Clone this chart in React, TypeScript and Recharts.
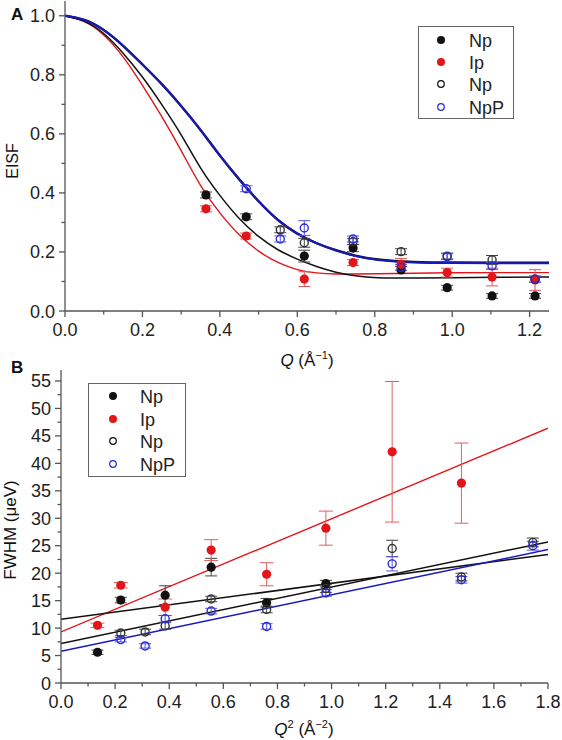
import React from 'react';
import { ComposedChart, Scatter, Line, XAxis, YAxis, ErrorBar, Legend } from 'recharts';

const FONT = '"Liberation Sans", Arial, sans-serif';
const AXIS = '#555';

// ---- panel A: EISF vs Q ----
const qNpFilled = [0.364, 0.468, 0.618, 0.744, 0.868, 0.987, 1.103, 1.214];
const eisfNpFilled = [0.393, 0.319, 0.186, 0.213, 0.139, 0.079, 0.051, 0.051];
const errNpFilled = [0.01, 0.01, 0.02, 0.012, 0.012, 0.008, 0.008, 0.008];

const qIp = [0.364, 0.468, 0.618, 0.744, 0.868, 0.987, 1.103, 1.214];
const eisfIp = [0.346, 0.254, 0.108, 0.164, 0.158, 0.13, 0.115, 0.105];
const errIp = [0.01, 0.01, 0.025, 0.01, 0.02, 0.015, 0.03, 0.035];

const qNpOpen = [0.556, 0.618, 0.744, 0.868, 0.987, 1.103, 1.214];
const eisfNpOpen = [0.275, 0.231, 0.235, 0.201, 0.186, 0.173, 0.108];
const errNpOpen = [0.01, 0.015, 0.01, 0.01, 0.01, 0.015, 0.01];

const qNpP = [0.468, 0.556, 0.618, 0.744, 0.868, 0.987, 1.103, 1.214];
const eisfNpP = [0.414, 0.244, 0.281, 0.244, 0.148, 0.184, 0.153, 0.108];
const errNpP = [0.01, 0.01, 0.025, 0.01, 0.01, 0.01, 0.012, 0.01];

// fit curves
const qFit = [0, 0.05, 0.1, 0.15, 0.2, 0.25, 0.3, 0.35, 0.4, 0.45, 0.5, 0.55, 0.6, 0.65, 0.7, 0.75, 0.8, 0.9, 1.0, 1.1, 1.25];
const fitNpFilled = [1.0, 0.985, 0.945, 0.875, 0.795, 0.7, 0.6, 0.48, 0.39, 0.31, 0.25, 0.205, 0.175, 0.15, 0.13, 0.118, 0.112, 0.111, 0.113, 0.114, 0.115];
const fitIp = [1.0, 0.985, 0.94, 0.865, 0.765, 0.66, 0.545, 0.42, 0.33, 0.255, 0.2, 0.162, 0.138, 0.128, 0.125, 0.125, 0.126, 0.128, 0.13, 0.13, 0.13];
const fitNpOpen = [1.0, 0.99, 0.955, 0.9, 0.835, 0.77, 0.695, 0.615, 0.525, 0.445, 0.37, 0.305, 0.26, 0.228, 0.205, 0.187, 0.174, 0.165, 0.164, 0.164, 0.164];
const fitNpP = [1.0, 0.99, 0.955, 0.9, 0.835, 0.77, 0.695, 0.615, 0.525, 0.445, 0.37, 0.305, 0.26, 0.228, 0.205, 0.185, 0.172, 0.163, 0.162, 0.162, 0.162];

const ticksAx = [0, 0.1, 0.2, 0.3, 0.4, 0.5, 0.6, 0.7, 0.8, 0.9, 1.0, 1.1, 1.2];
const ticksAy = [0, 0.1, 0.2, 0.3, 0.4, 0.5, 0.6, 0.7, 0.8, 0.9, 1.0];

// ---- panel B: FWHM vs Q^2 ----
const q2NpFilled = [0.135, 0.221, 0.385, 0.555, 0.76, 0.979];
const fwhmNpFilled = [5.6, 15.1, 16.0, 21.1, 14.6, 18.1];
const errFwhmNpFilled = [0.4, 0.5, 1.7, 1.6, 0.8, 0.6];

const q2Ip = [0.135, 0.221, 0.385, 0.555, 0.76, 0.979, 1.224, 1.48];
const fwhmIp = [10.5, 17.8, 13.8, 24.2, 19.8, 28.2, 42.1, 36.4];
const errFwhmIp = [0.4, 0.5, 1.5, 1.9, 2.1, 3.1, 12.8, 7.3];

const q2NpOpen = [0.221, 0.311, 0.385, 0.555, 0.76, 0.979, 1.224, 1.48, 1.744];
const fwhmNpOpen = [9.1, 9.3, 10.4, 15.3, 13.4, 17.2, 24.5, 19.3, 25.6];
const errFwhmNpOpen = [0.5, 0.5, 0.6, 0.5, 0.6, 0.7, 1.5, 0.7, 0.8];

const q2NpP = [0.221, 0.311, 0.385, 0.555, 0.76, 0.979, 1.224, 1.48, 1.744];
const fwhmNpP = [7.9, 6.75, 11.7, 13.1, 10.3, 16.4, 21.7, 18.8, 25.0];
const errFwhmNpP = [0.4, 0.4, 0.6, 0.5, 0.5, 0.6, 1.3, 0.6, 0.8];

// linear fits, ends at Q^2 = 0 and 1.8
const q2Fit = [0, 1.8];
const lineNpFilled = [11.6, 23.4];
const lineIp = [9.3, 46.4];
const lineNpOpen = [7.2, 25.7];
const lineNpP = [5.8, 24.3];

const ticksBx = [0, 0.1, 0.2, 0.3, 0.4, 0.5, 0.6, 0.7, 0.8, 0.9, 1.0, 1.1, 1.2, 1.3, 1.4, 1.5, 1.6, 1.7, 1.8];
const ticksBy = [0, 2.5, 5, 7.5, 10, 12.5, 15, 17.5, 20, 22.5, 25, 27.5, 30, 32.5, 35, 37.5, 40, 42.5, 45, 47.5, 50, 52.5, 55];

const legendNames = ['Np', 'Ip', 'Np', 'NpP'];

const pts = (xs: number[], ys: number[], es?: number[]) =>
  xs.map((x, i) => ({ x, y: ys[i], e: es ? es[i] : 0 }));

const BLACK = '#111';
const RED = '#e3151a';
const BLUE = '#2a2ad8';
const BLUE_LINE = '#1818c0';

const filled = (c: string) => (p: any) => <circle cx={p.cx} cy={p.cy} r={4.6} fill={c} />;
const open = (c: string) => (p: any) => (
  <circle cx={p.cx} cy={p.cy} r={4} fill="none" stroke={c} strokeWidth={1.4} />
);

const isMajor = (v: number, step: number) => Math.abs(v / step - Math.round(v / step)) < 1e-6;

const makeXTick = (step: number, fmt: (v: number) => string) => (props: any) => {
  const { x, y, payload } = props;
  const major = isMajor(payload.value, step);
  return (
    <g>
      <line x1={x} x2={x} y1={y} y2={y + (major ? 6 : 3.5)} stroke={AXIS} strokeWidth={1.3} />
      {major && (
        <text x={x} y={y + 25} textAnchor="middle" fontSize={18} fontFamily={FONT} fill="#222">
          {fmt(payload.value)}
        </text>
      )}
    </g>
  );
};

const makeYTick = (step: number, fmt: (v: number) => string) => (props: any) => {
  const { x, y, payload } = props;
  const major = isMajor(payload.value, step);
  return (
    <g>
      <line x1={x} x2={x - (major ? 6 : 3.5)} y1={y} y2={y} stroke={AXIS} strokeWidth={1.3} />
      {major && (
        <text x={x - 10} y={y + 6.5} textAnchor="end" fontSize={18} fontFamily={FONT} fill="#222">
          {fmt(payload.value)}
        </text>
      )}
    </g>
  );
};

const markers = [
  <circle key="a" cx={0} cy={0} r={4} fill={BLACK} />,
  <circle key="b" cx={0} cy={0} r={4} fill={RED} />,
  <circle key="c" cx={0} cy={0} r={3.3} fill="none" stroke={BLACK} strokeWidth={1.2} />,
  <circle key="d" cx={0} cy={0} r={3.3} fill="none" stroke={BLUE} strokeWidth={1.2} />,
];

const LegendBox = ({ w, h, mx, tx, rows }: { w: number; h: number; mx: number; tx: number; rows: number[] }) => (
  <svg width={w} height={h} style={{ display: 'block' }}>
    <rect x={0.5} y={0.5} width={w - 1} height={h - 1} fill="#fff" stroke="#666" strokeWidth={1} />
    {legendNames.map((n, i) => (
      <g key={i}>
        <g transform={`translate(${mx},${rows[i]})`}>{markers[i]}</g>
        <text x={tx} y={rows[i] + 6.5} fontSize={18} fontFamily={FONT} fill="#222">
          {n}
        </text>
      </g>
    ))}
  </svg>
);

const PanelA = () => (
  <ComposedChart width={562} height={360} margin={{ top: 1, right: 13, bottom: 0, left: 5 }}>
    <XAxis
      dataKey="x"
      type="number"
      domain={[0, 1.25]}
      ticks={ticksAx}
      interval={0}
      tickSize={0}
      tickMargin={0}
      height={49}
      allowDataOverflow
      axisLine={{ stroke: AXIS, strokeWidth: 1.3 }}
      tickLine={false}
      tick={makeXTick(0.2, (v) => v.toFixed(1))}
    />
    <YAxis
      dataKey="y"
      type="number"
      domain={[0, 1.05]}
      ticks={ticksAy}
      interval={0}
      tickSize={0}
      tickMargin={0}
      width={60}
      allowDataOverflow
      axisLine={{ stroke: AXIS, strokeWidth: 1.3 }}
      tickLine={false}
      tick={makeYTick(0.2, (v) => v.toFixed(1))}
    />
    <Line data={pts(qFit, fitIp)} dataKey="y" type="basis" stroke={RED} strokeWidth={1.4} dot={false} isAnimationActive={false} />
    <Line data={pts(qFit, fitNpFilled)} dataKey="y" type="basis" stroke={BLACK} strokeWidth={1.5} dot={false} isAnimationActive={false} />
    <Line data={pts(qFit, fitNpOpen)} dataKey="y" type="basis" stroke={BLACK} strokeWidth={2.4} dot={false} isAnimationActive={false} />
    <Line data={pts(qFit, fitNpP)} dataKey="y" type="basis" stroke={BLUE_LINE} strokeWidth={2} dot={false} isAnimationActive={false} />
    <Scatter data={pts(qNpFilled, eisfNpFilled, errNpFilled)} dataKey="y" shape={filled(BLACK)} isAnimationActive={false}>
      <ErrorBar dataKey="e" direction="y" width={6} stroke="#444" strokeWidth={1} />
    </Scatter>
    <Scatter data={pts(qIp, eisfIp, errIp)} dataKey="y" shape={filled(RED)} isAnimationActive={false}>
      <ErrorBar dataKey="e" direction="y" width={6} stroke="#e05555" strokeWidth={1} />
    </Scatter>
    <Scatter data={pts(qNpOpen, eisfNpOpen, errNpOpen)} dataKey="y" shape={open('#333')} isAnimationActive={false}>
      <ErrorBar dataKey="e" direction="y" width={6} stroke="#444" strokeWidth={1} />
    </Scatter>
    <Scatter data={pts(qNpP, eisfNpP, errNpP)} dataKey="y" shape={open(BLUE)} isAnimationActive={false}>
      <ErrorBar dataKey="e" direction="y" width={6} stroke="#5555e0" strokeWidth={1} />
    </Scatter>
    <Legend
      layout="vertical"
      align="center"
      verticalAlign="middle"
      wrapperStyle={{ position: 'absolute', left: 418, top: 26, width: 96, height: 93 }}
      content={() => <LegendBox w={96} h={93} mx={23} tx={51} rows={[14, 36, 58, 81]} />}
    />
  </ComposedChart>
);

const PanelB = () => (
  <ComposedChart width={562} height={380} margin={{ top: 10, right: 14, bottom: 0, left: 6 }}>
    <XAxis
      dataKey="x"
      type="number"
      domain={[0, 1.8]}
      ticks={ticksBx}
      interval={0}
      tickSize={0}
      tickMargin={0}
      height={57}
      allowDataOverflow
      axisLine={{ stroke: AXIS, strokeWidth: 1.3 }}
      tickLine={false}
      tick={makeXTick(0.2, (v) => v.toFixed(1))}
    />
    <YAxis
      dataKey="y"
      type="number"
      domain={[0, 57]}
      ticks={ticksBy}
      interval={0}
      tickSize={0}
      tickMargin={0}
      width={55}
      allowDataOverflow
      axisLine={{ stroke: AXIS, strokeWidth: 1.3 }}
      tickLine={false}
      tick={makeYTick(5, (v) => String(Math.round(v)))}
    />
    <Line data={pts(q2Fit, lineIp)} dataKey="y" type="linear" stroke={RED} strokeWidth={1.4} dot={false} isAnimationActive={false} />
    <Line data={pts(q2Fit, lineNpFilled)} dataKey="y" type="linear" stroke={BLACK} strokeWidth={1.5} dot={false} isAnimationActive={false} />
    <Line data={pts(q2Fit, lineNpOpen)} dataKey="y" type="linear" stroke={BLACK} strokeWidth={1.5} dot={false} isAnimationActive={false} />
    <Line data={pts(q2Fit, lineNpP)} dataKey="y" type="linear" stroke={BLUE_LINE} strokeWidth={1.5} dot={false} isAnimationActive={false} />
    <Scatter data={pts(q2NpFilled, fwhmNpFilled, errFwhmNpFilled)} dataKey="y" shape={filled(BLACK)} isAnimationActive={false}>
      <ErrorBar dataKey="e" direction="y" width={6} stroke="#444" strokeWidth={1} />
    </Scatter>
    <Scatter data={pts(q2Ip, fwhmIp, errFwhmIp)} dataKey="y" shape={filled(RED)} isAnimationActive={false}>
      <ErrorBar dataKey="e" direction="y" width={7} stroke="#e06060" strokeWidth={1} />
    </Scatter>
    <Scatter data={pts(q2NpOpen, fwhmNpOpen, errFwhmNpOpen)} dataKey="y" shape={open('#333')} isAnimationActive={false}>
      <ErrorBar dataKey="e" direction="y" width={6} stroke="#444" strokeWidth={1} />
    </Scatter>
    <Scatter data={pts(q2NpP, fwhmNpP, errFwhmNpP)} dataKey="y" shape={open(BLUE)} isAnimationActive={false}>
      <ErrorBar dataKey="e" direction="y" width={6} stroke="#5555e0" strokeWidth={1} />
    </Scatter>
    <Legend
      layout="vertical"
      align="center"
      verticalAlign="middle"
      wrapperStyle={{ position: 'absolute', left: 88, top: 23, width: 98, height: 94 }}
      content={() => <LegendBox w={98} h={94} mx={25} tx={52} rows={[13, 36, 58, 81]} />}
    />
  </ComposedChart>
);

const App = () => (
  <div style={{ position: 'absolute', left: 0, top: 0, width: 562, height: 740, background: '#fff', fontFamily: FONT }}>
    <div style={{ position: 'absolute', left: 0, top: 0 }}>
      <PanelA />
    </div>
    <div style={{ position: 'absolute', left: 0, top: 360 }}>
      <PanelB />
    </div>
    <svg width={562} height={740} style={{ position: 'absolute', left: 0, top: 0, pointerEvents: 'none' }}>
      <g fontFamily={FONT} fill="#111">
        <text x={11} y={20} fontSize={17} fontWeight="bold">A</text>
        <text x={11} y={373} fontSize={17} fontWeight="bold">B</text>
        <text transform="translate(18,161) rotate(-90)" textAnchor="middle" fontSize={16}>EISF</text>
        <text transform="translate(16,530) rotate(-90)" textAnchor="middle" fontSize={17}>FWHM (μeV)</text>
        <text x={307} y={366} textAnchor="middle" fontSize={17}>
          <tspan fontStyle="italic">Q</tspan>
          <tspan> (Å</tspan>
          <tspan dy={-7} fontSize={11}>−1</tspan>
          <tspan dy={7}>)</tspan>
        </text>
        <text x={304} y={735} textAnchor="middle" fontSize={17}>
          <tspan fontStyle="italic">Q</tspan>
          <tspan dy={-7} fontSize={11}>2</tspan>
          <tspan dy={7}> (Å</tspan>
          <tspan dy={-7} fontSize={11}>−2</tspan>
          <tspan dy={7}>)</tspan>
        </text>
      </g>
    </svg>
  </div>
);

export default App;
